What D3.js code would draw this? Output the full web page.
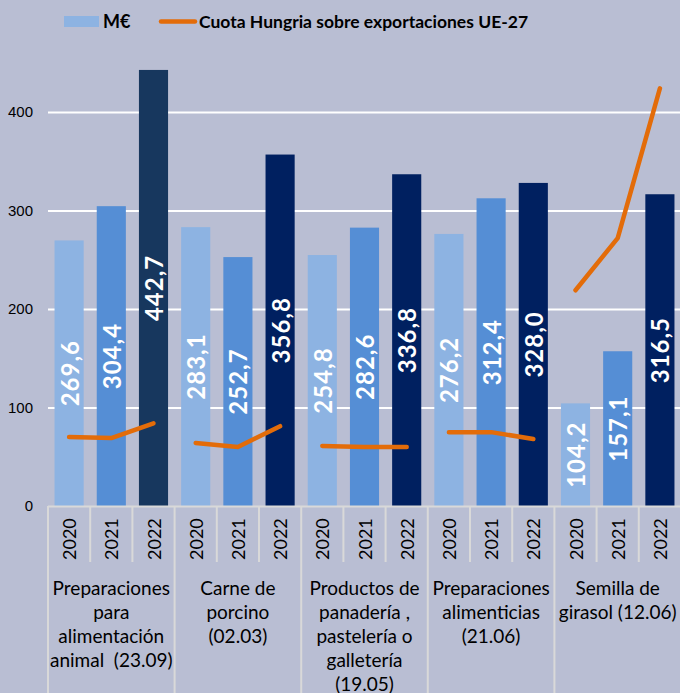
<!DOCTYPE html>
<html>
<head>
<meta charset="utf-8">
<script src="https://cdn.jsdelivr.net/npm/d3@7"></script>
<style>
  html, body { margin: 0; padding: 0; background: #b9bed3; }
  svg { display: block; font-family: Lato, "Open Sans", sans-serif; }
</style>
</head>
<body>
<div id="chart"></div>
<script>
const categories = ['Preparaciones para alimentación animal  (23.09)', 'Carne de porcino (02.03)',
  'Productos de panadería , pastelería o galletería (19.05)', 'Preparaciones alimenticias (21.06)',
  'Semilla de girasol (12.06)']
const categoryLines = [
  ['Preparaciones', 'para', 'alimentación', 'animal  (23.09)'],
  ['Carne de', 'porcino', '(02.03)'],
  ['Productos de', 'panadería ,', 'pastelería o', 'galletería', '(19.05)'],
  ['Preparaciones', 'alimenticias', '(21.06)'],
  ['Semilla de', 'girasol (12.06)']
]
const years = ['2020', '2021', '2022']
// M€ per category, one array per year
const values2020 = [269.6, 283.1, 254.8, 276.2, 104.2]
const values2021 = [304.4, 252.7, 282.6, 312.4, 157.1]
const values2022 = [442.7, 356.8, 336.8, 328.0, 316.5]
// Cuota Hungria sobre exportaciones UE-27 (%), secondary axis (hidden)
const share2020 = [3.5, 3.2, 3.05, 3.75, 10.95]
const share2021 = [3.45, 3.0, 3.0, 3.75, 13.6]
const share2022 = [4.2, 4.05, 3.0, 3.4, 21.2]
const yTicks = [0, 100, 200, 300, 400]

const width = 680
const height = 693
const margin = {top: 13, left: 48, right: 681, bottom: 506}

const svg = d3.select('#chart').append('svg')
  .attr('width', width)
  .attr('height', height)

const x0 = d3.scaleBand().domain(categories).range([margin.left, margin.right])
const x1 = d3.scaleBand().domain(years).range([0, x0.bandwidth()])
  .paddingInner(0.31).paddingOuter(0.155)
const y = d3.scaleLinear().domain([0, 500]).range([margin.bottom, margin.bottom - 492.5])
const y2 = d3.scaleLinear().domain([0, 25]).range([margin.bottom, margin.bottom - 492.5])

const colors = {2020: '#8db3e2', 2021: '#558ed5', 2022: '#002060'}
const barColor = (yr, i) => (yr === '2022' && i === 0) ? '#17375e' : colors[yr]

const fmt = d3.formatLocale({decimal: ',', thousands: '.', grouping: [3], currency: ['', '€']}).format('.1f')

// gridlines + y labels
const yAxis = svg.append('g')
  .attr('transform', `translate(${margin.left},0)`)
  .call(d3.axisLeft(y).tickValues(yTicks).tickSize(-(margin.right - margin.left)).tickPadding(15).tickFormat(d3.format('d')))
yAxis.select('.domain').remove()
yAxis.selectAll('.tick line').attr('stroke', '#fff').attr('stroke-width', 2)
  .filter(d => d === 0).remove()
yAxis.selectAll('.tick text').attr('fill', '#000').style('font-size', '15px')

const rows = categories.map((c, i) => ({
  cat: c,
  idx: i,
  bars: years.map((yr, j) => ({
    year: yr,
    value: [values2020, values2021, values2022][j][i],
    share: [share2020, share2021, share2022][j][i]
  }))
}))

const group = svg.append('g').selectAll('g')
  .data(rows)
  .join('g')
  .attr('transform', d => `translate(${x0(d.cat)},0)`)

group.selectAll('rect')
  .data(d => d.bars.map(b => ({...b, idx: d.idx})))
  .join('rect')
  .attr('x', d => x1(d.year))
  .attr('y', d => y(d.value))
  .attr('width', x1.bandwidth())
  .attr('height', d => y(0) - y(d.value))
  .attr('fill', d => barColor(d.year, d.idx))

group.selectAll('text.val')
  .data(d => d.bars)
  .join('text')
  .attr('class', 'val')
  .attr('transform', d => `translate(${x1(d.year) + x1.bandwidth() / 2},${(y(d.value) + y(0)) / 2}) rotate(-90)`)
  .attr('text-anchor', 'middle')
  .attr('dominant-baseline', 'central')
  .attr('fill', '#fff')
  .style('font-weight', 'bold')
  .style('font-size', '24px')
  .style('letter-spacing', '1px')
  .text(d => fmt(d.value))

// share line, one segment per category
const line = d3.line()
  .x(d => x1(d.year) + x1.bandwidth() / 2)
  .y(d => y2(d.share))

group.append('path')
  .attr('d', d => line(d.bars))
  .attr('fill', 'none')
  .attr('stroke', '#e36c09')
  .attr('stroke-width', 4.5)
  .attr('stroke-linecap', 'round')
  .attr('stroke-linejoin', 'round')

// category axis box
const axisG = svg.append('g')
const slotW = x0.bandwidth() / 3
axisG.append('line')
  .attr('x1', margin.left).attr('x2', margin.right)
  .attr('y1', y(0) + 0.5).attr('y2', y(0) + 0.5)
  .attr('stroke', '#d9d9d9').attr('stroke-width', 2)
categories.forEach((c, i) => {
  const gx = x0(c)
  axisG.append('line')
    .attr('x1', gx).attr('x2', gx).attr('y1', y(0)).attr('y2', height)
    .attr('stroke', '#d9d9d9').attr('stroke-width', 2)
  for (let k = 1; k < 3; k++) {
    axisG.append('line')
      .attr('x1', gx + k * slotW).attr('x2', gx + k * slotW)
      .attr('y1', y(0)).attr('y2', y(0) + 56)
      .attr('stroke', '#d9d9d9').attr('stroke-width', 2)
  }
  years.forEach(yr => {
    axisG.append('text')
      .attr('transform', `translate(${gx + x1(yr) + x1.bandwidth() / 2},${y(0) + 54}) rotate(-90)`)
      .attr('dominant-baseline', 'central')
      .style('font-size', '18px')
      .attr('fill', '#000')
      .text(yr)
  })
  axisG.append('text')
    .attr('x', gx + x0.bandwidth() / 2)
    .attr('text-anchor', 'middle')
    .style('font-size', '19px')
    .style('white-space', 'pre')
    .attr('fill', '#000')
    .selectAll('tspan')
    .data(categoryLines[i])
    .join('tspan')
    .attr('x', gx + x0.bandwidth() / 2)
    .attr('y', (d, j) => 595 + j * 24)
    .text(d => d)
})

// legend
const legend = svg.append('g')
legend.append('rect').attr('x', 64).attr('y', 16).attr('width', 35).attr('height', 11).attr('fill', '#8db3e2')
legend.append('text').attr('x', 103).attr('y', 28).style('font-weight', 'bold').style('font-size', '18px').text('M€')
legend.append('line').attr('x1', 161).attr('x2', 195).attr('y1', 21.5).attr('y2', 21.5)
  .attr('stroke', '#e36c09').attr('stroke-width', 4.5).attr('stroke-linecap', 'round')
legend.append('text').attr('x', 199).attr('y', 28).style('font-weight', 'bold').style('font-size', '17.5px')
  .text('Cuota Hungria sobre exportaciones UE-27')
</script>
</body>
</html>
